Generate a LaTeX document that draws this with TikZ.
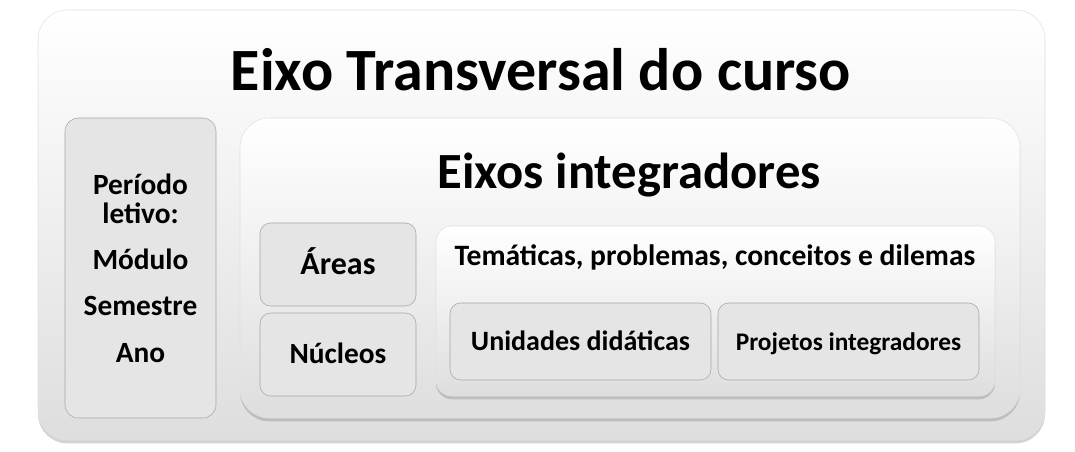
\documentclass[tikz,border=0pt]{standalone}
\usepackage{fontspec}
\setmainfont{Carlito}
\usetikzlibrary{shadows}

\tikzset{
  panel/.style={rounded corners=22pt, draw=black!12, top color=white, bottom color=black!13,
    drop shadow={shadow xshift=0pt, shadow yshift=-2.5pt, opacity=.35}},
  cell/.style={rounded corners=8pt, draw=black!35, fill=black!10, align=center, font=\bfseries},
  oneline/.style={cell, text depth=0pt},
  heading/.style={font=\bfseries, inner sep=0pt}
}

\begin{document}
\begin{tikzpicture}[x=0.75pt, y=-0.75pt]
  \useasboundingbox (0,0) rectangle (1075,451);
  % outer panel
  \node[panel, minimum width=1007*0.75pt, minimum height=430*0.75pt] (eixo) at (541.5,225) {};
  \node[heading, font=\fontsize{45}{50}\selectfont\bfseries, anchor=base] (titulo) at (541,90) {Eixo Transversal do curso};
  % period column
  \node[cell, rounded corners=10pt, minimum width=151*0.75pt, minimum height=300*0.75pt,
        font=\fontsize{22}{21.75}\selectfont\bfseries] (periodo) at (140.5,268)
        {Período\\letivo:\\[13pt]Módulo\\[13pt]Semestre\\[13pt]Ano};
  % integrating axes
  \node[panel, minimum width=780*0.75pt, minimum height=300*0.75pt] (integ) at (630,268) {};
  \node[heading, font=\fontsize{38}{44}\selectfont\bfseries, anchor=base] (subtitulo) at (629,188) {Eixos integradores};
  \node[oneline, text height=15.7pt, minimum width=156*0.75pt, minimum height=83*0.75pt,
        font=\fontsize{24}{28}\selectfont\bfseries] (areas) at (338,264.5) {Áreas};
  \node[oneline, text height=14.2pt, minimum width=156*0.75pt, minimum height=83*0.75pt,
        font=\fontsize{22}{26}\selectfont\bfseries] (nucleos) at (338,354.5) {Núcleos};
  \node[panel, rounded corners=12pt, minimum width=559*0.75pt, minimum height=170*0.75pt] (tematicas) at (715.5,311) {};
  \node[heading, font=\fontsize{22.2}{26}\selectfont\bfseries, anchor=base] (temlabel) at (715,265)
        {Temáticas, problemas, conceitos e dilemas};
  \node[oneline, text height=12.8pt, minimum width=261*0.75pt, minimum height=77*0.75pt,
        font=\fontsize{21}{24}\selectfont\bfseries] (unidades) at (580.5,341.5) {Unidades didáticas};
  \node[oneline, text height=12.8pt, minimum width=261*0.75pt, minimum height=77*0.75pt,
        font=\fontsize{19}{22}\selectfont\bfseries] (projetos) at (848.5,341.5) {Projetos integradores};
\end{tikzpicture}
\end{document}
